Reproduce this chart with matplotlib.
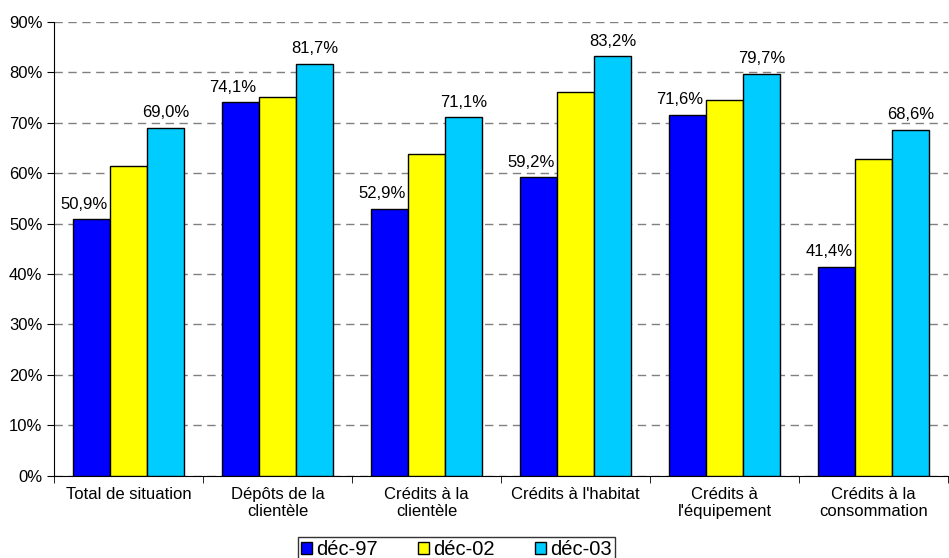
import matplotlib.pyplot as plt
import matplotlib
import numpy as np

matplotlib.rcParams["font.family"] = ["Liberation Sans", "DejaVu Sans"]
matplotlib.rcParams["font.size"] = 12

categories = ["Total de situation", "Dépôts de la\nclientèle", "Crédits à la\nclientèle",
              "Crédits à l'habitat", "Crédits à\nl'équipement", "Crédits à la\nconsommation"]
series = ["déc-97", "déc-02", "déc-03"]
dec97 = [50.9, 74.1, 52.9, 59.2, 71.6, 41.4]
dec02 = [61.4, 75.2, 63.8, 76.1, 74.5, 62.8]
dec03 = [69.0, 81.7, 71.1, 83.2, 79.7, 68.6]
colors = ["#0000ff", "#ffff00", "#00ccff"]
labelled = [True, False, True]
label_shift = [-0.05, 0, 0]

fig = plt.figure(figsize=(9.49, 5.58), dpi=100)
ax = fig.add_axes([0.057, 0.1475, 0.942, 0.8131])

x = np.arange(len(categories))
w = 0.25
for i, (vals, c) in enumerate(zip([dec97, dec02, dec03], colors)):
    pos = x + (i - 1) * w
    ax.bar(pos, vals, width=w, color=c, edgecolor="black", linewidth=1,
           label=series[i], zorder=3)
    if labelled[i]:
        for px, v in zip(pos, vals):
            ax.text(px + label_shift[i], v + 1.5, f"{v:.1f}%".replace(".", ","),
                    ha="center", va="bottom", fontsize=12)

ax.set_ylim(0, 90)
ax.set_xlim(-0.5, 5.5)
ax.set_yticks(range(0, 91, 10))
ax.set_yticklabels([f"{t}%" for t in range(0, 91, 10)])
ax.yaxis.grid(True, linestyle=(0, (6, 4)), color="#808080", linewidth=1, zorder=0)
ax.set_xticks(x)
ax.set_xticklabels(categories)
ax.set_xticks(np.arange(-0.5, 6.0, 1), minor=True)
ax.tick_params(axis="x", which="major", length=0, pad=8)
ax.tick_params(axis="x", which="minor", length=5, direction="out")
ax.tick_params(axis="y", length=5, direction="out")
ax.spines["top"].set_visible(False)
ax.spines["right"].set_visible(False)

leg = ax.legend(loc="upper center", bbox_to_anchor=(0.45, -0.135), ncol=3,
                frameon=True, fancybox=False, edgecolor="black", fontsize=14.5,
                handlelength=0.55, handleheight=0.55, handletextpad=0.2,
                columnspacing=2.0, borderpad=0.15, borderaxespad=0)
leg.get_frame().set_linewidth(1)

fig.savefig("out.png", dpi=100)
